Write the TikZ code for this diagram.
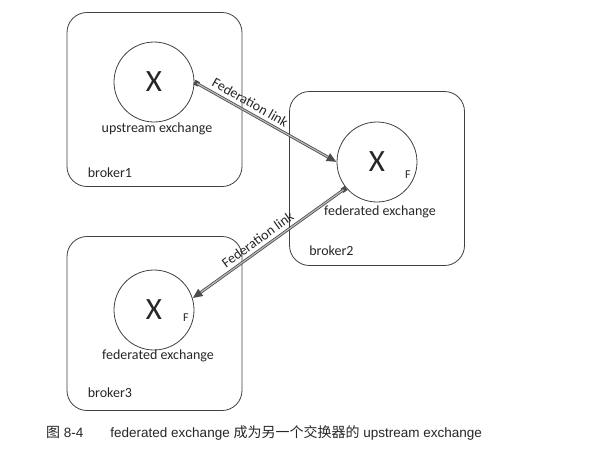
\documentclass[tikz,border=0pt]{standalone}
\usepackage{fontspec}
\setmainfont{Carlito}
\newfontfamily\capfont{Liberation Sans}
\newfontfamily\cjkfont{Noto Sans CJK SC}
\usetikzlibrary{arrows.meta,calc,positioning}

\begin{document}
\begin{tikzpicture}[x=1pt,y=-1pt,font=\fontsize{14}{16}\selectfont,
  broker/.style={draw=black!75,line width=.8pt,rounded corners=20pt,minimum width=175pt,minimum height=174pt},
  exch/.style={draw=black!75,line width=.8pt,circle,minimum size=80pt,inner sep=0pt,text=black!85,font=\fontsize{31}{31}\selectfont},
  lbl/.style={inner sep=0pt,text=black!85},
  fedlink/.style={black!70,line width=2.8pt,{Square[length=5pt,width=5pt]}-{Triangle[length=10pt,width=8pt]},
    postaction={draw,gray!55,line width=1.2pt,-,shorten <=3pt,shorten >=10pt}}]
  \useasboundingbox (0,0) rectangle (598,448);
  \foreach \n/\x/\y in {1/154.5/99.5,2/377/178.5,3/154.5/323.5}{
    \node[broker] (b\n) at (\x,\y) {};
  }
  % exchanges
  \node[exch] (up) at (154,82) {X};
  \node[exch] (fed2) at (377,162) {X};
  \node[exch] (fed3) at (154,310) {X};
  \node[lbl,below=0pt of up,xshift=3pt] (lup) {upstream exchange};
  \node[lbl,below=3pt of fed2,xshift=3pt] (lfed2) {federated exchange};
  \node[lbl,below=-1pt of fed3,xshift=4pt] (lfed3) {federated exchange};
  \node[lbl,font=\fontsize{12}{12}\selectfont] (f2) at ($(fed2)+(31,13)$) {F};
  \node[lbl,font=\fontsize{12}{12}\selectfont] (f3) at ($(fed3)+(32,8)$) {F};
  \node[lbl,anchor=base west] (lb1) at ($(b1.south west)+(21,-9)$) {broker1};
  \node[lbl,anchor=base west] (lb2) at ($(b2.south west)+(20,-10)$) {broker2};
  \node[lbl,anchor=base west] (lb3) at ($(b3.south west)+(21,-13)$) {broker3};
  % federation links
  \draw[fedlink] (up.east) -- (fed2.west) node[pos=.36,above,sloped,text=black!85] {Federation link};
  \draw[fedlink] (fed2.220) -- (fed3.17) node[pos=.54,above,sloped,text=black!85] {Federation link};
  \node[anchor=west,inner sep=0pt,font=\capfont\fontsize{13.5}{15}\selectfont,text=black!85] (cap) at (46,433)
    {{\cjkfont\fontsize{14}{15}\selectfont 图} 8-4\hspace{2em}federated exchange {\cjkfont\fontsize{14}{15}\selectfont 成为另一个交换器的} upstream exchange};
\end{tikzpicture}
\end{document}
